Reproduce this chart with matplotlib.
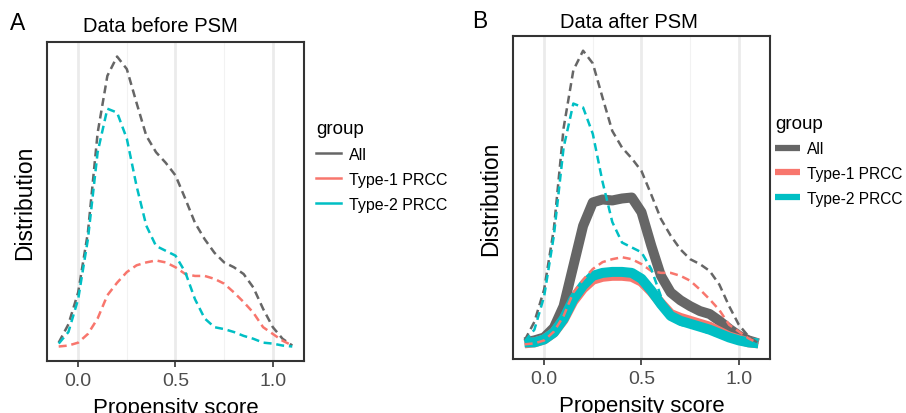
import numpy as np
import matplotlib.pyplot as plt

plt.rcParams['font.family'] = ['Liberation Sans', 'DejaVu Sans']

# propensity score grid
score = [-0.10, -0.05, 0.00, 0.05, 0.10, 0.15, 0.20, 0.25, 0.30, 0.35, 0.40, 0.45, 0.50,
         0.55, 0.60, 0.65, 0.70, 0.75, 0.80, 0.85, 0.90, 0.95, 1.00, 1.05, 1.10]

# densities before matching (dashed, same in both panels)
all_before = [0.04, 0.23, 0.56, 1.18, 2.21, 2.80, 3.00, 2.87, 2.52, 2.18, 2.01, 1.90, 1.77,
              1.53, 1.28, 1.11, 0.97, 0.87, 0.82, 0.75, 0.61, 0.39, 0.20, 0.08, 0.01]
t1_before = [0.00, 0.01, 0.04, 0.13, 0.29, 0.53, 0.66, 0.77, 0.84, 0.87, 0.89, 0.87, 0.82,
             0.75, 0.73, 0.73, 0.70, 0.65, 0.56, 0.46, 0.35, 0.20, 0.13, 0.06, 0.01]
t2_before = [0.03, 0.15, 0.49, 1.11, 2.01, 2.46, 2.42, 2.15, 1.66, 1.25, 1.04, 0.99, 0.94,
             0.77, 0.49, 0.29, 0.20, 0.18, 0.15, 0.11, 0.08, 0.04, 0.03, 0.01, 0.00]

# densities after matching (thick solid, panel B)
all_after = [0.02, 0.04, 0.07, 0.17, 0.39, 0.80, 1.21, 1.45, 1.48, 1.47, 1.49, 1.50, 1.35,
             1.01, 0.70, 0.53, 0.45, 0.39, 0.34, 0.31, 0.24, 0.16, 0.09, 0.04, 0.01]
t1_after = [0.01, 0.02, 0.05, 0.12, 0.25, 0.44, 0.57, 0.66, 0.69, 0.70, 0.70, 0.69, 0.64,
            0.54, 0.42, 0.31, 0.27, 0.24, 0.21, 0.18, 0.13, 0.08, 0.05, 0.02, 0.01]
t2_after = [0.02, 0.02, 0.05, 0.12, 0.26, 0.46, 0.60, 0.70, 0.73, 0.74, 0.74, 0.73, 0.67,
            0.55, 0.41, 0.29, 0.24, 0.21, 0.18, 0.15, 0.11, 0.07, 0.04, 0.02, 0.01]

groups = ['All', 'Type-1 PRCC', 'Type-2 PRCC']
colors = ['#666666', '#F8766D', '#00BFC4']
dash = (0, (3.2, 1.9))

fig = plt.figure(figsize=(9.06, 4.14), dpi=100)
axA = fig.add_axes([0.0519, 0.1256, 0.2836, 0.7705])
axB = fig.add_axes([0.5662, 0.1304, 0.2837, 0.7802])


def style(ax):
    ax.set_xlim(-0.16, 1.16)
    ymax = 3.0
    ax.set_ylim(-0.05 * ymax, 1.05 * ymax)
    for v in [0.25, 0.75]:
        ax.axvline(v, color='#F2F2F2', lw=0.8, zorder=0)
    for v in [0.0, 0.5, 1.0]:
        ax.axvline(v, color='#EBEBEB', lw=2.0, zorder=0)
    ax.set_xticks([0.0, 0.5, 1.0])
    ax.set_xticklabels(['0.0', '0.5', '1.0'])
    ax.set_yticks([])
    ax.tick_params(axis='x', length=4, width=1.2, color='#333333',
                   labelsize=14, labelcolor='#4D4D4D', pad=4)
    for s in ax.spines.values():
        s.set_color('#333333')
        s.set_linewidth(1.5)
    ax.set_xlabel('Propensity score', fontsize=16, labelpad=6)
    ax.set_ylabel('Distribution', fontsize=16.5, labelpad=8)


def legend(ax, x0, fs):
    leg = ax.legend(title='group', loc='upper left', bbox_to_anchor=(x0, 0.80),
                    frameon=False, fontsize=fs, title_fontsize=13.5,
                    handlelength=1.6, handletextpad=0.45, labelspacing=0.62)
    leg._legend_box.align = 'left'
    return leg


# panel A
before = [all_before, t1_before, t2_before]
for vals, c in zip(before, colors):
    axA.plot(score, vals, color=c, lw=1.8, ls=dash, zorder=3)
for c, g in zip(colors, groups):
    axA.plot([], [], color=c, lw=1.8, label=g)
style(axA)
legend(axA, 0.99, 11.5)

# panel B
after = [all_after, t1_after, t2_after]
for vals, c in zip(after, colors):
    axB.plot(score, vals, color=c, lw=7.2, solid_capstyle='butt',
             solid_joinstyle='round', zorder=2)
for vals, c in zip(before, colors):
    axB.plot(score, vals, color=c, lw=1.8, ls=dash, zorder=3)
for c, g in zip(colors, groups):
    axB.plot([], [], color=c, lw=4.5, solid_capstyle='butt', label=g)
style(axB)
legend(axB, 0.965, 11.2)

fig.text(10 / 906, 1 - 24 / 414, 'A', fontsize=16.5, va='center', ha='left')
fig.text(472 / 906, 1 - 22 / 414, 'B', fontsize=16.5, va='center', ha='left')
fig.text(160 / 906, 1 - 27 / 414, 'Data before PSM', fontsize=14.5, va='center', ha='center')
fig.text(629 / 906, 1 - 23 / 414, 'Data after PSM', fontsize=14.5, va='center', ha='center')

fig.savefig('out.png', dpi=100)
